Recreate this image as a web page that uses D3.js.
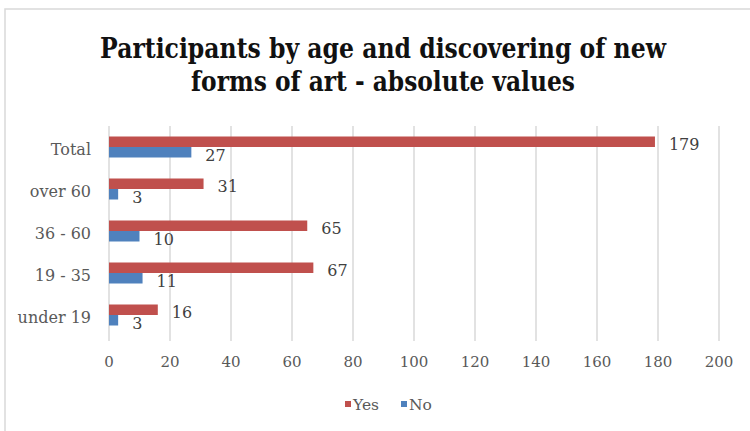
<!DOCTYPE html>
<html><head><meta charset="utf-8">
<script src="https://cdn.jsdelivr.net/npm/d3@7"></script>
<style>body{margin:0;background:#fff}svg{display:block}</style>
</head><body>
<svg id="c" width="750" height="431"></svg>
<script>
const categories = ["Total", "over 60", "36 - 60", "19 - 35", "under 19"];
const seriesNames = ["Yes", "No"];
const yesValues = [179, 31, 65, 67, 16];
const noValues = [27, 3, 10, 11, 3];
const xTicks = [0, 20, 40, 60, 80, 100, 120, 140, 160, 180, 200];
const colors = ["#C0504D", "#4F81BD"];
const titleLines = ["Participants by age and discovering of new", "forms of art - absolute values"];

const svg = d3.select("#c");
svg.append("rect").attr("x", 5).attr("y", 9).attr("width", 760).attr("height", 440)
  .attr("fill", "#fff").attr("stroke", "#d9d9d9").attr("stroke-width", 1.5);

const x = d3.scaleLinear().domain([0, 200]).range([109, 719]);
const y = d3.scaleBand().domain(categories).range([126, 336]).paddingInner(0.5).paddingOuter(0.25);
const inner = d3.scaleBand().domain(seriesNames).range([0, y.bandwidth()]);

const serif = "'DejaVu Serif', 'Liberation Serif', serif";

// title (condensed horizontally via transform)
const tw = [566, 384];
svg.selectAll(".title").data(titleLines).join("text")
  .attr("class", "title")
  .attr("x", 0).attr("y", 0)
  .attr("text-anchor", "middle")
  .attr("font-family", serif).attr("font-weight", "bold").attr("font-size", 28)
  .attr("fill", "#111")
  .text(d => d)
  .each(function (d, i) {
    const w = this.getComputedTextLength();
    d3.select(this).attr("transform", `translate(383,${58 + i * 33}) scale(${tw[i] / w},1)`);
  });

// grid
svg.append("g").selectAll("line").data(xTicks).join("line")
  .attr("x1", d => x(d)).attr("x2", d => x(d))
  .attr("y1", 126).attr("y2", 341)
  .attr("stroke", "#d9d9d9").attr("stroke-width", 1.5);

// x tick labels
svg.append("g").selectAll("text").data(xTicks).join("text")
  .attr("x", d => x(d)).attr("y", 367).attr("text-anchor", "middle")
  .attr("font-family", serif).attr("font-size", 15).attr("fill", "#595959")
  .text(d => d);

// category labels
svg.append("g").selectAll("text").data(categories).join("text")
  .attr("x", 91).attr("y", d => y(d) + y.bandwidth() / 2 + 8).attr("text-anchor", "end")
  .attr("font-family", serif).attr("font-size", 16).attr("fill", "#595959")
  .text(d => d);

const data = [yesValues, noValues];
seriesNames.forEach((s, si) => {
  const g = svg.append("g");
  g.selectAll("rect").data(categories).join("rect")
    .attr("x", x(0)).attr("y", d => y(d) + inner(s))
    .attr("width", (d, i) => x(data[si][i]) - x(0))
    .attr("height", inner.bandwidth())
    .attr("fill", colors[si]);
  g.selectAll("text").data(categories).join("text")
    .attr("x", (d, i) => x(data[si][i]) + 14)
    .attr("y", d => y(d) + inner(s) + inner.bandwidth() / 2 + 8.5)
    .attr("font-family", serif).attr("font-size", 16).attr("fill", "#404040")
    .text((d, i) => data[si][i]);
});

// legend
const legX = [345, 401];
const lg = svg.append("g");
seriesNames.forEach((s, i) => {
  lg.append("rect").attr("x", legX[i]).attr("y", 401).attr("width", 6).attr("height", 6).attr("fill", colors[i]);
  lg.append("text").attr("x", legX[i] + 8).attr("y", 410)
    .attr("font-family", serif).attr("font-size", 15.5).attr("fill", "#595959").text(s);
});
</script>
</body></html>
